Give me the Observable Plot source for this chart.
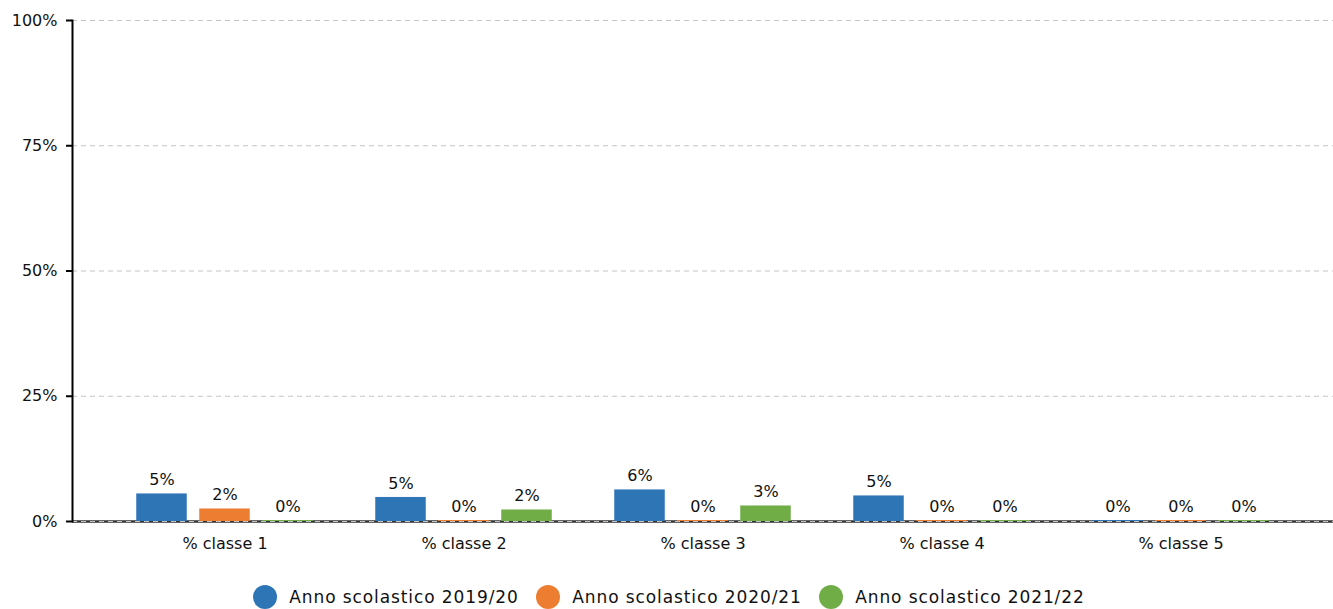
<!DOCTYPE html>
<html>
<head>
<meta charset="utf-8">
<script src="https://cdn.jsdelivr.net/npm/d3@7"></script>
<script src="https://cdn.jsdelivr.net/npm/@observablehq/plot@0.6"></script>
<style>
  html, body { margin: 0; padding: 0; background: #fff; }
  body { width: 1333px; height: 609px; overflow: hidden; font-family: "DejaVu Sans", sans-serif; }
  #legend { display: flex; justify-content: center; align-items: center; height: 34px; box-sizing: border-box; padding-top: 10px; padding-left: 5px; }
  .item { display: flex; align-items: center; margin: 0 8.75px; font-size: 17px; letter-spacing: 0.9px; color: #111; }
  .dot { width: 24px; height: 24px; border-radius: 50%; margin-right: 12px; }
</style>
</head>
<body>
<div id="chart"></div>
<div id="legend"></div>
<script>
const categories = ["% classe 1", "% classe 2", "% classe 3", "% classe 4", "% classe 5"];
const seriesNames = ["Anno scolastico 2019/20", "Anno scolastico 2020/21", "Anno scolastico 2021/22"];
const seriesColors = ["#2E75B6", "#ED7D31", "#70AD47"];
const v2019 = [5.3, 4.6, 6.1, 4.9, 0];
const v2020 = [2.3, 0, 0, 0, 0];
const v2021 = [0, 2.1, 2.9, 0, 0];
const yTicks = [0, 25, 50, 75, 100];

const seriesValues = [v2019, v2020, v2021];
const offsets = [-63, 0, 63];

const barMarks = [];
seriesValues.forEach((vals, i) => {
  const rows = categories.map((c, j) => ({cat: c, value: vals[j]}));
  barMarks.push(Plot.barY(rows, {
    x: "cat", y: "value", fill: seriesColors[i], dx: offsets[i],
    insetLeft: 94.25, insetRight: 94.25, insetTop: -1
  }));
  barMarks.push(Plot.text(rows, {
    x: "cat", y: "value", text: d => Math.round(d.value) + "%", dx: offsets[i], dy: -15,
    lineAnchor: "middle", textAnchor: "middle", fontSize: 16, fill: "#111"
  }));
});

const chart = Plot.plot({
  width: 1333,
  height: 575,
  marginTop: 20,
  marginLeft: 72,
  marginRight: 0,
  marginBottom: 54,
  style: {fontFamily: "DejaVu Sans, sans-serif", fontSize: "16px", color: "#111", background: "#fff"},
  x: {domain: categories, range: [103.75, 1301.25], padding: 0},
  y: {domain: [0, 100]},
  marks: [
    Plot.ruleY([0], {stroke: "#333", strokeWidth: 2.5}),
    Plot.gridY(yTicks, {stroke: "#c4c4c4", strokeOpacity: 1, strokeDasharray: "5,4"}),
    ...barMarks,
    Plot.frame({anchor: "left", stroke: "#000", strokeWidth: 2}),
    Plot.axisY(yTicks, {tickFormat: d => d + "%", tickSize: 6, tickPadding: 9, strokeWidth: 2, stroke: "#000", fontSize: 16, label: null}),
    Plot.axisX({tickSize: 0, tickPadding: 16, fontSize: 16, label: null})
  ]
});
document.getElementById("chart").appendChild(chart);

const legend = document.getElementById("legend");
seriesNames.forEach((name, i) => {
  const item = document.createElement("div");
  item.className = "item";
  const dot = document.createElement("span");
  dot.className = "dot";
  dot.style.background = seriesColors[i];
  const label = document.createElement("span");
  label.textContent = name;
  item.appendChild(dot);
  item.appendChild(label);
  legend.appendChild(item);
});
</script>
</body>
</html>
